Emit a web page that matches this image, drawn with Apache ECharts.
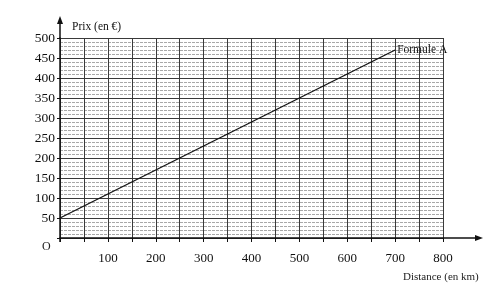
<!DOCTYPE html>
<html><head><meta charset="utf-8">
<script src="https://cdn.jsdelivr.net/npm/echarts@6/dist/echarts.min.js"></script>
<style>html,body{margin:0;padding:0;background:#fff}#c{width:489px;height:289px}</style>
</head><body><div id="c"></div>
<script>
var distances = [0, 700];
var prices = [50, 470];
var seriesName = 'Formule A';
var xTickLabels = [100, 200, 300, 400, 500, 600, 700, 800];
var yTickLabels = [50, 100, 150, 200, 250, 300, 350, 400, 450, 500];
var xTitle = 'Distance (en km)';
var yTitle = 'Prix (en €)';

var serif = '"Liberation Serif", "DejaVu Serif", serif';
var chart = echarts.init(document.getElementById('c'));
chart.setOption({
  animation: false,
  backgroundColor: '#fff',
  grid: {left: 60, right: 46, top: 38, bottom: 51},
  xAxis: {
    type: 'value', min: 0, max: 800, interval: 50,
    axisLine: {show: true, lineStyle: {color: '#111', width: 1.5}},
    axisTick: {show: true, length: 4, lineStyle: {color: '#111'}},
    axisLabel: {
      margin: 14, fontFamily: serif, fontSize: 13, color: '#111',
      formatter: function (v) { return xTickLabels.indexOf(v) >= 0 ? String(v) : ''; }
    },
    splitLine: {show: true, lineStyle: {color: '#3a3a3a', width: 1}}
  },
  yAxis: {
    type: 'value', min: 0, max: 500, interval: 50,
    axisLine: {show: true, lineStyle: {color: '#111', width: 1.5}},
    axisTick: {show: true, length: 3, lineStyle: {color: '#111'}},
    axisLabel: {
      margin: 5, fontFamily: serif, fontSize: 13.5, color: '#111',
      formatter: function (v) { return yTickLabels.indexOf(v) >= 0 ? String(v) : ''; }
    },
    splitLine: {show: true, lineStyle: {color: '#3a3a3a', width: 1}},
    minorTick: {show: false, splitNumber: 5},
    minorSplitLine: {show: true, lineStyle: {color: '#a8a8a8', width: 1, type: [3, 1]}}
  },
  series: [{
    name: seriesName, type: 'line', symbol: 'none',
    data: distances.map(function (d, i) { return [d, prices[i]]; }),
    lineStyle: {color: '#111', width: 1.3},
    endLabel: {show: true, formatter: seriesName, fontFamily: serif, fontSize: 11.5, color: '#111', distance: 2}
  }]
});

var o = chart.convertToPixel({gridIndex: 0}, [0, 0]);
var xe = chart.convertToPixel({gridIndex: 0}, [800, 0]);
var ye = chart.convertToPixel({gridIndex: 0}, [0, 500]);
var ax = xe[0] + 34, ay = ye[1] - 16;
chart.setOption({
  graphic: [
    {type: 'line', shape: {x1: xe[0], y1: o[1], x2: ax, y2: o[1]}, style: {stroke: '#111', lineWidth: 1.5}},
    {type: 'polygon', shape: {points: [[ax + 6, o[1]], [ax - 2, o[1] - 3], [ax - 2, o[1] + 3]]}, style: {fill: '#111'}},
    {type: 'line', shape: {x1: o[0], y1: ye[1], x2: o[0], y2: ay}, style: {stroke: '#111', lineWidth: 1.5}},
    {type: 'polygon', shape: {points: [[o[0], ay - 6], [o[0] - 3, ay + 2], [o[0] + 3, ay + 2]]}, style: {fill: '#111'}},
    {type: 'line', shape: {x1: o[0], y1: o[1], x2: o[0], y2: o[1] + 4}, style: {stroke: '#111', lineWidth: 1.5}},
    {type: 'text', left: o[0] + 12, top: ay - 1, style: {text: yTitle, font: '11.5px ' + serif, fill: '#111'}},
    {type: 'text', left: o[0] - 18, top: o[1] + 3, style: {text: 'O', font: '12px ' + serif, fill: '#222'}},
    {type: 'text', left: xe[0] - 40, top: o[1] + 34, style: {text: xTitle, font: '11px ' + serif, fill: '#222'}}
  ]
});
</script></body></html>
